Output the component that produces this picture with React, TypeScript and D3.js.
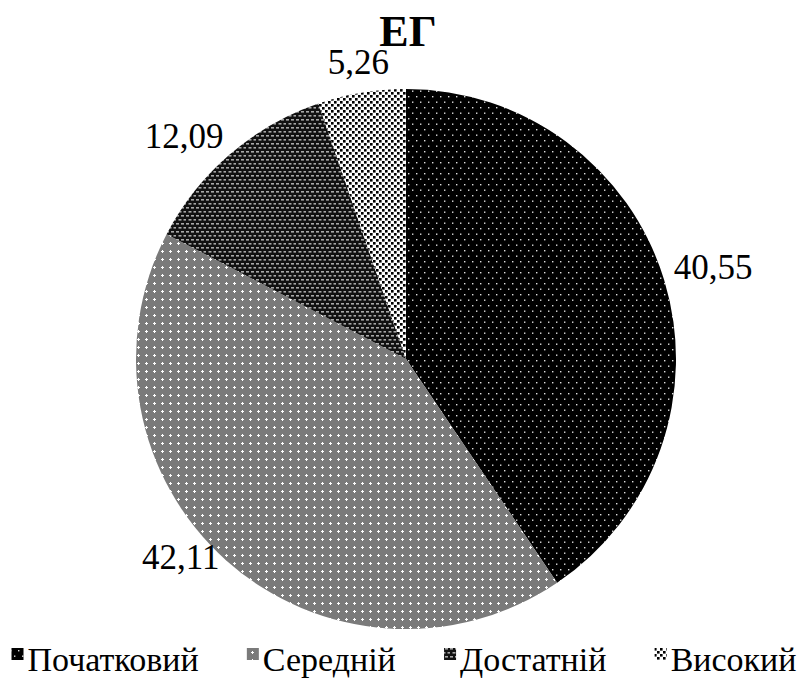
import React, { useEffect, useRef } from "react";
import * as d3 from "d3";

const title = "ЕГ";
const categories = ["Початковий", "Середній", "Достатній", "Високий"];
const values = [40.55, 42.11, 12.09, 5.26];
const valueLabels = ["40,55", "42,11", "12,09", "5,26"];
const patternIds = ["pat0", "pat1", "pat2", "pat3"];

const W = 804;
const H = 679;
const FONT = "Liberation Serif";

export default function App() {
  const ref = useRef<SVGSVGElement | null>(null);

  useEffect(() => {
    const svg = d3.select(ref.current);
    svg.selectAll("*").remove();

    const defs = svg.append("defs");

    // Початковий: black with sparse light dots
    const p0 = defs.append("pattern").attr("id", "pat0").attr("patternUnits", "userSpaceOnUse")
      .attr("width", 8).attr("height", 11);
    p0.append("rect").attr("width", 8).attr("height", 11).attr("fill", "#000");
    p0.append("rect").attr("x", 2).attr("y", 1).attr("width", 1.4).attr("height", 1.4).attr("fill", "#ddd");
    p0.append("rect").attr("x", 6).attr("y", 6.5).attr("width", 1.4).attr("height", 1.4).attr("fill", "#ddd");

    // Середній: grey with white crosses
    const p1 = defs.append("pattern").attr("id", "pat1").attr("patternUnits", "userSpaceOnUse")
      .attr("width", 8).attr("height", 8);
    p1.append("rect").attr("width", 8).attr("height", 8).attr("fill", "#7a7a7a");
    p1.append("rect").attr("x", 3).attr("y", 4).attr("width", 3).attr("height", 1).attr("fill", "#fff");
    p1.append("rect").attr("x", 4).attr("y", 3).attr("width", 1).attr("height", 3).attr("fill", "#fff");

    // Достатній: dark with light small rectangles
    const p2 = defs.append("pattern").attr("id", "pat2").attr("patternUnits", "userSpaceOnUse")
      .attr("width", 10).attr("height", 8);
    p2.append("rect").attr("width", 10).attr("height", 8).attr("fill", "#111");
    [[0, 0], [5, 0], [2.5, 4], [7.5, 4]].forEach(([x, y]) =>
      p2.append("rect").attr("x", x).attr("y", y).attr("width", 3).attr("height", 1.6).attr("fill", "#a8a8a8"));

    // Високий: white with black squares
    const p3 = defs.append("pattern").attr("id", "pat3").attr("patternUnits", "userSpaceOnUse")
      .attr("width", 6).attr("height", 6);
    p3.append("rect").attr("width", 6).attr("height", 6).attr("fill", "#fff");
    p3.append("rect").attr("x", 0).attr("y", 0).attr("width", 2.6).attr("height", 2.6).attr("fill", "#000");
    p3.append("rect").attr("x", 3).attr("y", 3).attr("width", 2.6).attr("height", 2.6).attr("fill", "#000");

    svg.append("rect").attr("width", W).attr("height", H).attr("fill", "#fff");

    // Title
    svg.append("text").attr("x", 408).attr("y", 46).attr("text-anchor", "middle")
      .attr("font-family", FONT).attr("font-weight", "bold").attr("font-size", 44).text(title);

    const cx = 406, cy = 359, r = 270;
    const pie = d3.pie<number>().sort(null).value((d) => d);
    const arcs = pie(values);
    const arc = d3.arc<d3.PieArcDatum<number>>().innerRadius(0).outerRadius(r);
    const g = svg.append("g").attr("transform", `translate(${cx},${cy})`);
    g.selectAll("path").data(arcs).join("path")
      .attr("d", arc as any)
      .attr("fill", (_, i) => `url(#${patternIds[i]})`);

    // Labels
    const labelR = 280;
    arcs.forEach((a, i) => {
      const mid = (a.startAngle + a.endAngle) / 2;
      const s = Math.sin(mid), c = Math.cos(mid);
      const near = Math.abs(s) < 0.3;
      const R = near ? 290 : labelR;
      const x = R * s;
      const y = -R * c - 10;
      g.append("text")
        .attr("x", x).attr("y", y)
        .attr("text-anchor", near ? "middle" : s > 0 ? "start" : "end")
        .attr("dominant-baseline", "central")
        .attr("font-family", FONT).attr("font-size", 35).attr("fill", "#000")
        .text(valueLabels[i]);
    });

    // Legend
    const lg = svg.append("g");
    const fs = 34;
    const sq = 12;
    const pad = 4;
    const baseY = 671;
    const items = categories.map((cat, i) => {
      const t = lg.append("text").attr("font-family", FONT).attr("font-size", fs).attr("y", baseY).text(cat);
      const w = (t.node() as SVGTextElement).getComputedTextLength();
      return { t, w, i };
    });
    const totalItems = items.reduce((acc, it) => acc + sq + pad + it.w, 0);
    const span = 785;
    const gap = Math.max(8, (span - totalItems) / (items.length - 1));
    const total = totalItems + gap * (items.length - 1);
    let x = 404 - total / 2;
    items.forEach((it) => {
      lg.append("rect").attr("x", x).attr("y", baseY - 23).attr("width", sq).attr("height", sq)
        .attr("fill", `url(#${patternIds[it.i]})`);
      it.t.attr("x", x + sq + pad);
      x += sq + pad + it.w + gap;
    });
  }, []);

  return (
    <svg ref={ref} width={W} height={H} style={{ position: "absolute", left: 0, top: 0 }} />
  );
}
